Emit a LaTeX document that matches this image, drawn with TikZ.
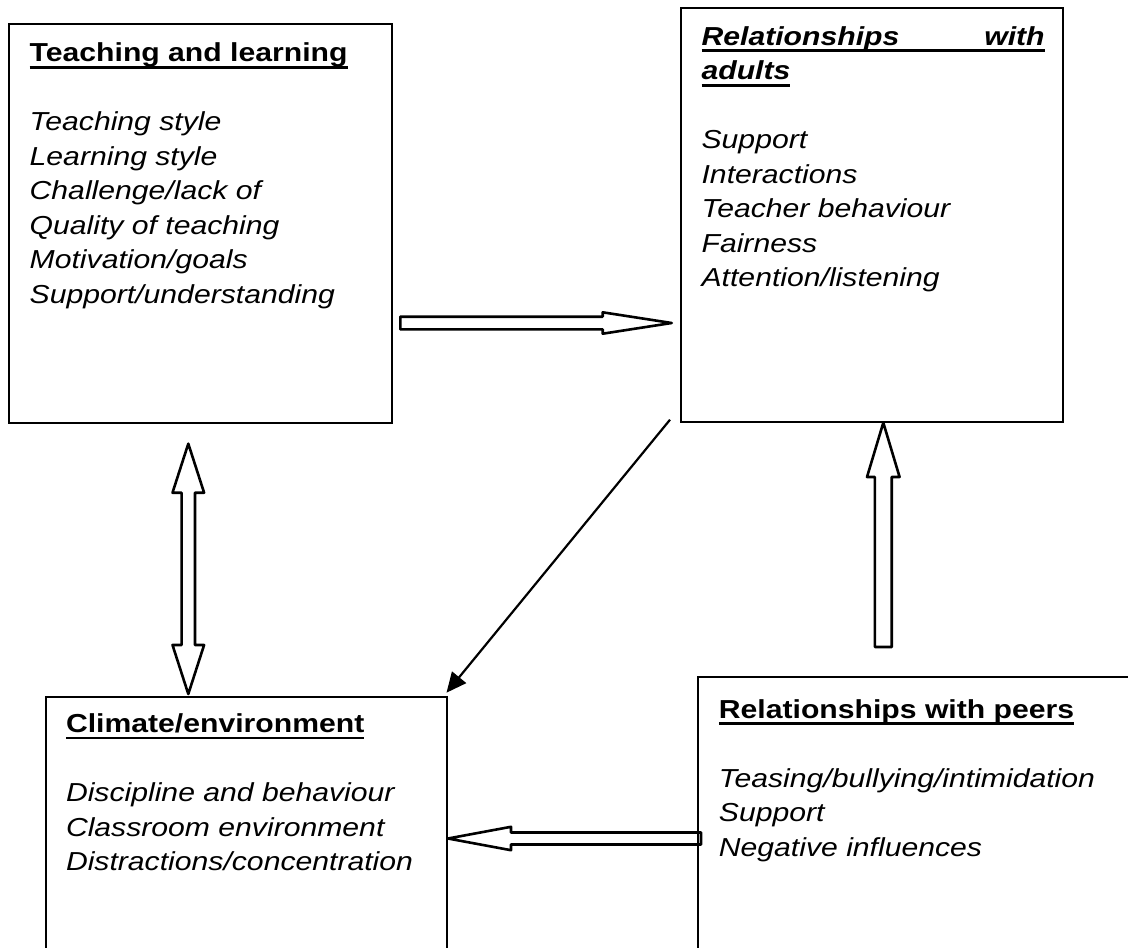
\documentclass[tikz,border=0pt]{standalone}
\usepackage{fontspec}
\setmainfont{Liberation Sans}[FakeStretch=1.16]
\usetikzlibrary{calc,arrows.meta}
\newsavebox\hulbox
\newcommand{\hul}[1]{\sbox\hulbox{#1}\rlap{\rule[-6.8pt]{\wd\hulbox}{2.7pt}}\usebox\hulbox}
% single hollow block arrow: #1 start, #2 tip, #3 shaft half width, #4 head half width, #5 head length
\newcommand{\blockarr}[5]{%
  \coordinate (ba-c) at ($(#2)!#5!(#1)$);
  \draw[hollow] ($(#1)!#3!90:(#2)$) -- ($(ba-c)!#3!-90:(#1)$) -- ($(ba-c)!#4!-90:(#1)$) -- (#2)
     -- ($(ba-c)!#4!90:(#1)$) -- ($(ba-c)!#3!90:(#1)$) -- ($(#1)!#3!-90:(#2)$) -- cycle;}
% double hollow block arrow between tips #1 and #2
\newcommand{\dblarr}[5]{%
  \coordinate (da-c1) at ($(#1)!#5!(#2)$);
  \coordinate (da-c2) at ($(#2)!#5!(#1)$);
  \draw[hollow] (#1) -- ($(da-c1)!#4!90:(#2)$) -- ($(da-c1)!#3!90:(#2)$) -- ($(da-c2)!#3!-90:(#1)$)
     -- ($(da-c2)!#4!-90:(#1)$) -- (#2) -- ($(da-c2)!#4!90:(#1)$) -- ($(da-c2)!#3!90:(#1)$)
     -- ($(da-c1)!#3!-90:(#2)$) -- ($(da-c1)!#4!-90:(#2)$) -- cycle;}
\begin{document}
\begin{tikzpicture}[x=1pt,y=-1pt,
  box/.style={draw, line width=2pt, inner sep=0pt, anchor=north west},
  txt/.style={inner sep=0pt, anchor=north west, align=left, font=\fontsize{26}{34.5}\selectfont},
  hollow/.style={draw, line width=2.6pt, line join=round},
  thinarr/.style={draw, line width=2.2pt, -{Triangle[length=20pt,width=18pt]}}]
\useasboundingbox (0,0) rectangle (1128,948);
\clip (0,0) rectangle (1128,948);

% boxes
\node[box, minimum width=383pt, minimum height=399pt] (tl) at (8,22.7) {};
\node[box, minimum width=382pt, minimum height=413.4pt] (tr) at (680,7.3) {};
\node[box, minimum width=401pt, minimum height=270pt] (bl) at (45,695.7) {};
\node[box, minimum width=450pt, minimum height=285pt] (br) at (697,676.3) {};

% texts
\node[txt] (tlt) at (29.5,41.7) {\rule{0pt}{20pt}\hul{\bfseries Teaching and learning}\\[34.5pt]
  \textit{Teaching style}\\ \textit{Learning style}\\ \textit{Challenge/lack of}\\
  \textit{Quality of teaching}\\ \textit{Motivation/goals}\\ \textit{Support/understanding}};
\node[txt] (trt) at (701.4,25) {\rule{0pt}{20pt}\hul{\makebox[343pt][l]{\bfseries\itshape Relationships\hfill with}}\\
  \hul{\bfseries\itshape adults}\\[34.5pt]
  \textit{Support}\\ \textit{Interactions}\\ \textit{Teacher behaviour}\\ \textit{Fairness}\\ \textit{Attention/listening}};
\node[txt] (blt) at (65.8,712.3) {\rule{0pt}{20pt}\hul{\bfseries Climate/environment}\\[34.5pt]
  \textit{Discipline and behaviour}\\ \textit{Classroom environment}\\ \textit{Distractions/concentration}};
\node[txt] (brt) at (718.7,698) {\rule{0pt}{20pt}\hul{\bfseries Relationships with peers}\\[34.5pt]
  \textit{Teasing/bullying/intimidation}\\ \textit{Support}\\ \textit{Negative influences}};

% connector end points
\coordinate (ha-s) at ($(tl.north east)+(7.3,300.3)$);
\coordinate (ha-t) at ($(tr.north west)+(-8.3,315.7)$);
\coordinate (da-a) at ($(tl.south west)+(180.3,20)$);
\coordinate (da-b) at ($(bl.north west)+(143.3,-1.7)$);
\coordinate (ua-s) at ($(br.north west)+(186.3,-29.3)$);
\coordinate (ua-t) at ($(tr.south west)+(203.3,0)$);
\coordinate (la-s) at ($(br.north west)+(4,162.2)$);
\coordinate (la-t) at ($(bl.north east)+(0,142.8)$);
\coordinate (dg-s) at ($(tr.south west)+(-10,-3)$);
\coordinate (dg-t) at ($(bl.north east)+(-1.5,-3)$);

% connectors
\blockarr{ha-s}{ha-t}{6.3pt}{10.7pt}{69pt}
\dblarr{da-a}{da-b}{6.7pt}{15.8pt}{49pt}
\blockarr{ua-s}{ua-t}{8.4pt}{16.3pt}{54.3pt}
\blockarr{la-s}{la-t}{6pt}{11.7pt}{63pt}
\draw[thinarr] (dg-s) -- (dg-t);
\end{tikzpicture}
\end{document}
